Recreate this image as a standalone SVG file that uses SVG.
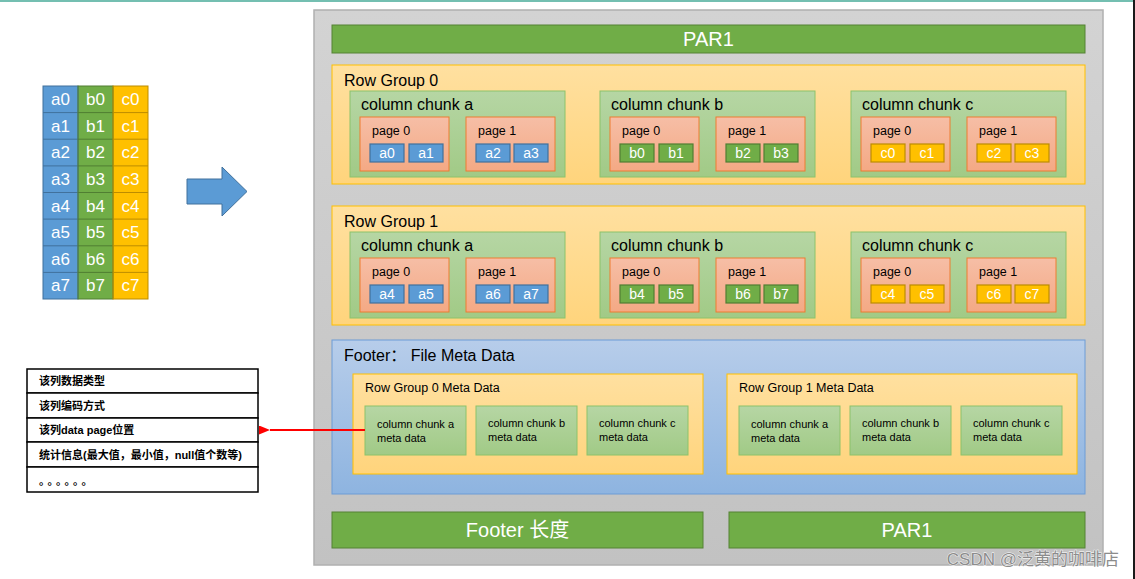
<svg xmlns="http://www.w3.org/2000/svg" width="1135" height="579" viewBox="0 0 1135 579">
<style>
text{font-family:"Liberation Sans",Arial,"Noto Sans CJK SC",sans-serif;}
.w{fill:#fff;}
.ct{fill:#fff;font-size:14px;text-anchor:middle;}
.lbl{fill:#000;font-size:16px;}
.pl{fill:#000;font-size:12.5px;}
.ml{fill:#000;font-size:11px;}
.ch{fill:url(#gGreen);stroke:#8CC26A;stroke-width:1;}
.pg{fill:url(#gPage);stroke:#ED7D31;stroke-width:1;}
.cb{fill:#5B9BD5;stroke:#41719C;stroke-width:1.2;}
.cg{fill:#70AD47;stroke:#507E32;stroke-width:1.2;}
.cy{fill:#FFC000;stroke:#BC8C00;stroke-width:1.2;}
.rg{fill:url(#gYel);stroke:#FFC000;stroke-width:1;}
.bar{fill:#70AD47;stroke:#548235;stroke-width:1;}
.tb{fill:#fff;stroke:#000;stroke-width:1.5;}
.tt{fill:#000;font-size:11px;font-weight:bold;}
.big{fill:#fff;font-size:17px;text-anchor:middle;}
</style>
<defs>
<linearGradient id="gGray" x1="0" y1="0" x2="0" y2="1"><stop offset="0" stop-color="#D3D3D3"/><stop offset="1" stop-color="#C2C2C2"/></linearGradient>
<linearGradient id="gYel" x1="0" y1="0" x2="0" y2="1"><stop offset="0" stop-color="#FFE0A0"/><stop offset="1" stop-color="#FFD47C"/></linearGradient>
<linearGradient id="gGreen" x1="0" y1="0" x2="0" y2="1"><stop offset="0" stop-color="#B6D6A4"/><stop offset="1" stop-color="#A1CA86"/></linearGradient>
<linearGradient id="gPage" x1="0" y1="0" x2="0" y2="1"><stop offset="0" stop-color="#F6BEA6"/><stop offset="1" stop-color="#F4A984"/></linearGradient>
<linearGradient id="gBlue" x1="0" y1="0" x2="0" y2="1"><stop offset="0" stop-color="#B7CDEA"/><stop offset="1" stop-color="#8EB4E0"/></linearGradient>
<marker id="arr" markerWidth="11" markerHeight="9" refX="0" refY="4.5" orient="auto" markerUnits="userSpaceOnUse"><path d="M11,0 L0,4.5 L11,9 Z" fill="#FF0000"/></marker>
</defs>
<rect x="0" y="0" width="1135" height="579" fill="#fff"/>
<rect x="0" y="0" width="1133" height="2" fill="#74BFB1"/>
<rect x="1133" y="0" width="2" height="579" fill="#1a1a1a"/>

<g id="source-table">
<rect x="43" y="86" width="35" height="213" fill="#5B9BD5"/>
<rect x="78" y="86" width="35" height="213" fill="#70AD47"/>
<rect x="113" y="86" width="35" height="213" fill="#FFC000"/>
<g stroke="#41719C" stroke-width="1" fill="none">
<rect x="43" y="86" width="35" height="213"/>
<path d="M43,112.6H78M43,139.2H78M43,165.9H78M43,192.5H78M43,219.1H78M43,245.8H78M43,272.4H78"/>
</g>
<g stroke="#507E32" stroke-width="1" fill="none">
<rect x="78" y="86" width="35" height="213"/>
<path d="M78,112.6H113M78,139.2H113M78,165.9H113M78,192.5H113M78,219.1H113M78,245.8H113M78,272.4H113"/>
</g>
<g stroke="#BC8C00" stroke-width="1" fill="none">
<rect x="113" y="86" width="35" height="213"/>
<path d="M113,112.6H148M113,139.2H148M113,165.9H148M113,192.5H148M113,219.1H148M113,245.8H148M113,272.4H148"/>
</g>
<g class="big">
<text x="60.5" y="105">a0</text><text x="95.5" y="105">b0</text><text x="130.5" y="105">c0</text>
<text x="60.5" y="131.6">a1</text><text x="95.5" y="131.6">b1</text><text x="130.5" y="131.6">c1</text>
<text x="60.5" y="158.2">a2</text><text x="95.5" y="158.2">b2</text><text x="130.5" y="158.2">c2</text>
<text x="60.5" y="184.9">a3</text><text x="95.5" y="184.9">b3</text><text x="130.5" y="184.9">c3</text>
<text x="60.5" y="211.5">a4</text><text x="95.5" y="211.5">b4</text><text x="130.5" y="211.5">c4</text>
<text x="60.5" y="238.1">a5</text><text x="95.5" y="238.1">b5</text><text x="130.5" y="238.1">c5</text>
<text x="60.5" y="264.8">a6</text><text x="95.5" y="264.8">b6</text><text x="130.5" y="264.8">c6</text>
<text x="60.5" y="291.4">a7</text><text x="95.5" y="291.4">b7</text><text x="130.5" y="291.4">c7</text>
</g>
</g>

<g id="big-arrow">
<path d="M187,179 H222 V167 L247,191.5 L222,216 V204 H187 Z" fill="#5B9BD5" stroke="#41719C" stroke-width="1"/>
</g>

<g id="file">
<rect x="314" y="10" width="789" height="555" fill="url(#gGray)" stroke="#B0B0B0" stroke-width="1.5"/>
</g>

<g id="par1-top">
<rect class="bar" x="332" y="25" width="753" height="28"/>
<text x="708.5" y="46" class="w" font-size="20" text-anchor="middle">PAR1</text>
</g>

<g id="row-group-0">
<rect class="rg" x="332" y="65" width="753" height="119"/>
<text x="344" y="86" class="lbl">Row Group 0</text>
</g>
<g id="rg0-chunk-a" transform="translate(350,91)">
<rect class="ch" x="0" y="0" width="215" height="86"/>
<text x="11" y="19" class="lbl">column chunk a</text>
<rect class="pg" x="10" y="26" width="89" height="54"/><text x="22" y="44" class="pl">page 0</text>
<rect class="cb" x="20" y="53" width="34" height="18"/><text x="37" y="67" class="ct">a0</text>
<rect class="cb" x="59" y="53" width="34" height="18"/><text x="76" y="67" class="ct">a1</text>
<rect class="pg" x="116" y="26" width="89" height="54"/><text x="128" y="44" class="pl">page 1</text>
<rect class="cb" x="126" y="53" width="34" height="18"/><text x="143" y="67" class="ct">a2</text>
<rect class="cb" x="164" y="53" width="34" height="18"/><text x="181" y="67" class="ct">a3</text>
</g>
<g id="rg0-chunk-b" transform="translate(600,91)">
<rect class="ch" x="0" y="0" width="215" height="86"/>
<text x="11" y="19" class="lbl">column chunk b</text>
<rect class="pg" x="10" y="26" width="89" height="54"/><text x="22" y="44" class="pl">page 0</text>
<rect class="cg" x="20" y="53" width="34" height="18"/><text x="37" y="67" class="ct">b0</text>
<rect class="cg" x="59" y="53" width="34" height="18"/><text x="76" y="67" class="ct">b1</text>
<rect class="pg" x="116" y="26" width="89" height="54"/><text x="128" y="44" class="pl">page 1</text>
<rect class="cg" x="126" y="53" width="34" height="18"/><text x="143" y="67" class="ct">b2</text>
<rect class="cg" x="164" y="53" width="34" height="18"/><text x="181" y="67" class="ct">b3</text>
</g>
<g id="rg0-chunk-c" transform="translate(851,91)">
<rect class="ch" x="0" y="0" width="215" height="86"/>
<text x="11" y="19" class="lbl">column chunk c</text>
<rect class="pg" x="10" y="26" width="89" height="54"/><text x="22" y="44" class="pl">page 0</text>
<rect class="cy" x="20" y="53" width="34" height="18"/><text x="37" y="67" class="ct">c0</text>
<rect class="cy" x="59" y="53" width="34" height="18"/><text x="76" y="67" class="ct">c1</text>
<rect class="pg" x="116" y="26" width="89" height="54"/><text x="128" y="44" class="pl">page 1</text>
<rect class="cy" x="126" y="53" width="34" height="18"/><text x="143" y="67" class="ct">c2</text>
<rect class="cy" x="164" y="53" width="34" height="18"/><text x="181" y="67" class="ct">c3</text>
</g>

<g id="row-group-1">
<rect class="rg" x="332" y="206" width="753" height="119"/>
<text x="344" y="227" class="lbl">Row Group 1</text>
</g>
<g id="rg1-chunk-a" transform="translate(350,232)">
<rect class="ch" x="0" y="0" width="215" height="86"/>
<text x="11" y="19" class="lbl">column chunk a</text>
<rect class="pg" x="10" y="26" width="89" height="54"/><text x="22" y="44" class="pl">page 0</text>
<rect class="cb" x="20" y="53" width="34" height="18"/><text x="37" y="67" class="ct">a4</text>
<rect class="cb" x="59" y="53" width="34" height="18"/><text x="76" y="67" class="ct">a5</text>
<rect class="pg" x="116" y="26" width="89" height="54"/><text x="128" y="44" class="pl">page 1</text>
<rect class="cb" x="126" y="53" width="34" height="18"/><text x="143" y="67" class="ct">a6</text>
<rect class="cb" x="164" y="53" width="34" height="18"/><text x="181" y="67" class="ct">a7</text>
</g>
<g id="rg1-chunk-b" transform="translate(600,232)">
<rect class="ch" x="0" y="0" width="215" height="86"/>
<text x="11" y="19" class="lbl">column chunk b</text>
<rect class="pg" x="10" y="26" width="89" height="54"/><text x="22" y="44" class="pl">page 0</text>
<rect class="cg" x="20" y="53" width="34" height="18"/><text x="37" y="67" class="ct">b4</text>
<rect class="cg" x="59" y="53" width="34" height="18"/><text x="76" y="67" class="ct">b5</text>
<rect class="pg" x="116" y="26" width="89" height="54"/><text x="128" y="44" class="pl">page 1</text>
<rect class="cg" x="126" y="53" width="34" height="18"/><text x="143" y="67" class="ct">b6</text>
<rect class="cg" x="164" y="53" width="34" height="18"/><text x="181" y="67" class="ct">b7</text>
</g>
<g id="rg1-chunk-c" transform="translate(851,232)">
<rect class="ch" x="0" y="0" width="215" height="86"/>
<text x="11" y="19" class="lbl">column chunk c</text>
<rect class="pg" x="10" y="26" width="89" height="54"/><text x="22" y="44" class="pl">page 0</text>
<rect class="cy" x="20" y="53" width="34" height="18"/><text x="37" y="67" class="ct">c4</text>
<rect class="cy" x="59" y="53" width="34" height="18"/><text x="76" y="67" class="ct">c5</text>
<rect class="pg" x="116" y="26" width="89" height="54"/><text x="128" y="44" class="pl">page 1</text>
<rect class="cy" x="126" y="53" width="34" height="18"/><text x="143" y="67" class="ct">c6</text>
<rect class="cy" x="164" y="53" width="34" height="18"/><text x="181" y="67" class="ct">c7</text>
</g>

<g id="footer">
<rect x="332" y="340" width="753" height="154" fill="url(#gBlue)" stroke="#6D9CD6" stroke-width="1"/>
<text x="344" y="361" class="lbl">Footer： File Meta Data</text>
</g>
<g id="rg0-meta">
<rect class="rg" x="353" y="374" width="350" height="100"/>
<text x="365" y="392" fill="#000" font-size="12.5">Row Group 0 Meta Data</text>
<rect class="ch" x="365" y="406" width="101" height="49" stroke="#7DBA5C"/>
<text x="377" y="428" class="ml">column chunk a</text><text x="377" y="442" class="ml">meta data</text>
<rect class="ch" x="476" y="406" width="101" height="49" stroke="#7DBA5C"/>
<text x="488" y="427" class="ml">column chunk b</text><text x="488" y="441" class="ml">meta data</text>
<rect class="ch" x="587" y="406" width="101" height="49" stroke="#7DBA5C"/>
<text x="599" y="427" class="ml">column chunk c</text><text x="599" y="441" class="ml">meta data</text>
</g>
<g id="rg1-meta">
<rect class="rg" x="727" y="374" width="350" height="100"/>
<text x="739" y="392" fill="#000" font-size="12.5">Row Group 1 Meta Data</text>
<rect class="ch" x="739" y="406" width="101" height="49" stroke="#7DBA5C"/>
<text x="751" y="428" class="ml">column chunk a</text><text x="751" y="442" class="ml">meta data</text>
<rect class="ch" x="850" y="406" width="101" height="49" stroke="#7DBA5C"/>
<text x="862" y="427" class="ml">column chunk b</text><text x="862" y="441" class="ml">meta data</text>
<rect class="ch" x="961" y="406" width="101" height="49" stroke="#7DBA5C"/>
<text x="973" y="427" class="ml">column chunk c</text><text x="973" y="441" class="ml">meta data</text>
</g>

<g id="footer-length">
<rect class="bar" x="332" y="512" width="371" height="36"/>
<text x="517.5" y="537" class="w" font-size="20" text-anchor="middle">Footer 长度</text>
</g>
<g id="par1-bottom">
<rect class="bar" x="729" y="512" width="356" height="36"/>
<text x="907" y="537" class="w" font-size="20" text-anchor="middle">PAR1</text>
</g>

<g id="meta-table">
<rect class="tb" x="27" y="369" width="231" height="24"/>
<rect class="tb" x="27" y="393" width="231" height="25"/>
<rect class="tb" x="27" y="418" width="231" height="24"/>
<rect class="tb" x="27" y="442" width="231" height="25"/>
<rect class="tb" x="27" y="467" width="231" height="25"/>
<text x="39" y="385" class="tt">该列数据类型</text>
<text x="39" y="410" class="tt">该列编码方式</text>
<text x="39" y="434" class="tt">该列data page位置</text>
<text x="39" y="459" class="tt">统计信息(最大值，最小值，null值个数等)</text>
<text x="39" y="485" class="tt" letter-spacing="3">。。。。。。</text>
</g>

<g id="connectors">
<line x1="365" y1="430" x2="270" y2="430" stroke="#FF0000" stroke-width="2" marker-end="url(#arr)"/>
</g>

<text x="1119" y="565" text-anchor="end" font-size="17" fill="#8C8C8C" stroke="#ffffff" stroke-width="0.8" paint-order="stroke">CSDN @泛黄的咖啡店</text>
</svg>
